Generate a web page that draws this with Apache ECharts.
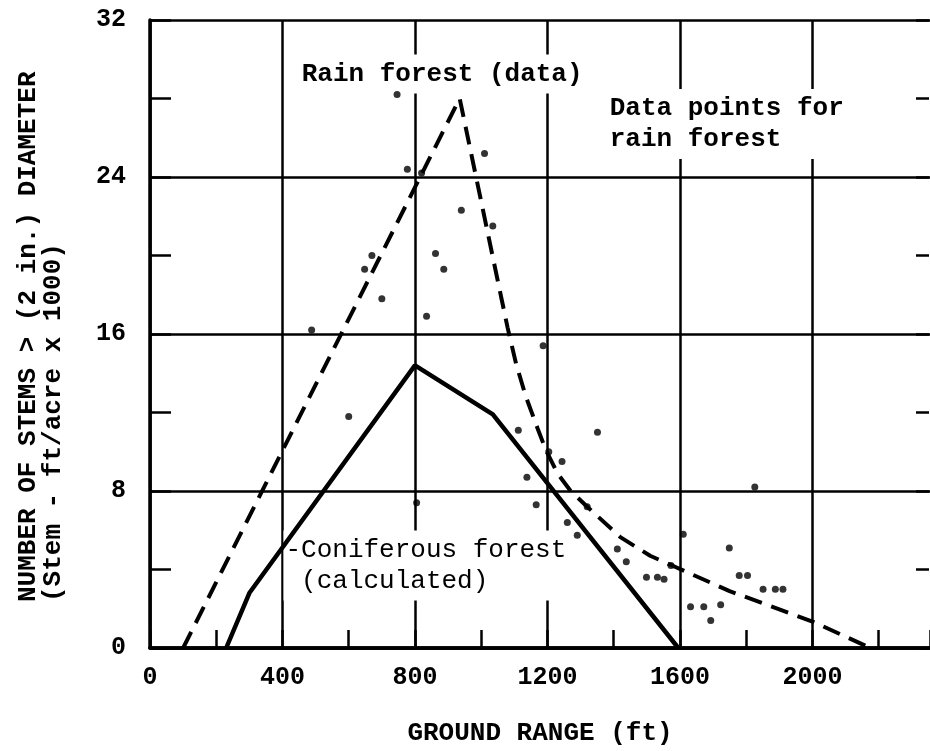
<!DOCTYPE html>
<html>
<head>
<meta charset="utf-8">
<script src="https://cdn.jsdelivr.net/npm/echarts@6/dist/echarts.min.js"></script>
<style>
  html, body { margin: 0; padding: 0; background: #fff; }
  #chart { width: 930px; height: 751px; }
</style>
</head>
<body>
<div id="chart"></div>
<script>
// calculated curve, coniferous forest [ground range ft, stems x1000]
const coniferous = [[230, 0], [300, 2.8], [800, 14.4], [1035, 11.9], [1595, 0]];
// fitted curve through rain forest data
const rainForest = [
  [100, 0], [935, 28], [1060, 17.9], [1080, 16.3], [1105, 14.5], [1135, 12.8],
  [1170, 11.2], [1195, 10.1], [1230, 8.9], [1270, 8.0], [1320, 7.2], [1420, 5.65],
  [1510, 4.7], [1590, 4.1], [1750, 2.9], [2000, 1.35], [2175, 0]
];
// measured points, rain forest
const rainPoints = [
  [746, 28.2], [1010, 25.2], [777, 24.4], [820, 24.2], [940, 22.3], [1035, 21.5],
  [670, 20.0], [648, 19.3], [862, 20.1], [887, 19.3], [700, 17.8], [835, 16.9],
  [488, 16.2], [1187, 15.4], [600, 11.8], [805, 7.4], [1112, 11.1], [1138, 8.7],
  [1166, 7.3], [1204, 10.0], [1244, 9.5], [1351, 11.0], [1260, 6.4], [1290, 5.75],
  [1320, 7.2], [1411, 5.05], [1438, 4.4], [1499, 3.6], [1532, 3.6], [1552, 3.5],
  [1573, 4.2], [1610, 5.8], [1749, 5.1], [1779, 3.7], [1804, 3.7], [1826, 8.2],
  [1851, 3.0], [1888, 3.0], [1911, 3.0], [1632, 2.1], [1672, 2.1], [1723, 2.2],
  [1693, 1.4]
];

// the sheet is cut at the right edge, a little past 2200 ft
const xRange = [0, 2355];
const yRange = [0, 32];

// notes placed in data coords
const notes = [
  {text: 'Rain forest (data)', at: [452, 29.25], weight: 'bold'},
  {text: 'Data points for\nrain forest', at: [1382, 26.7], weight: 'bold'},
  {text: '-Coniferous forest\n (calculated)', at: [403, 4.2], weight: 'normal'}
];
const yTitle = 'NUMBER OF STEMS > (2 in.) DIAMETER\n(Stem - ft/acre x 1000)';
const xTitle = 'GROUND RANGE (ft)';

const FONT = '"Liberation Mono", "DejaVu Sans Mono", monospace';
const black = '#000';
const gridLeft = 150;
const chartWidth = 930;

const chart = echarts.init(document.getElementById('chart'));

const option = {
  backgroundColor: '#fff',
  animation: false,
  textStyle: {fontFamily: FONT, color: black},
  grid: {left: gridLeft, right: 0, top: 20, bottom: 99},
  xAxis: [
    {
      type: 'value',
      min: xRange[0],
      max: xRange[1],
      interval: 400,
      axisLine: {show: true, lineStyle: {color: black, width: 3.5}},
      axisTick: {show: true, inside: true, length: 18, lineStyle: {color: black, width: 2.5}},
      minorTick: {show: true, splitNumber: 2, length: 18, lineStyle: {color: black, width: 2.5}},
      splitLine: {show: true, showMaxLine: false, lineStyle: {color: black, width: 2.5}},
      axisLabel: {
        showMaxLabel: false,
        margin: 17,
        fontSize: 25,
        fontWeight: 'bold',
        fontFamily: FONT,
        color: black,
        formatter: v => String(v)
      },
      name: xTitle,
      nameLocation: 'middle',
      nameGap: 72,
      nameTextStyle: {fontSize: 26, fontWeight: 'bold', fontFamily: FONT, color: black}
    },
    {
      type: 'value',
      position: 'top',
      min: xRange[0],
      max: xRange[1],
      interval: 400,
      axisLine: {show: true, lineStyle: {color: black, width: 3.5}},
      axisTick: {show: false},
      axisLabel: {show: false},
      splitLine: {show: false}
    }
  ],
  yAxis: [
    {
      type: 'value',
      min: yRange[0],
      max: yRange[1],
      interval: 8,
      axisLine: {show: true, lineStyle: {color: black, width: 3.5}},
      axisTick: {show: true, inside: true, length: 21, lineStyle: {color: black, width: 2.5}},
      minorTick: {show: true, splitNumber: 2, length: 21, lineStyle: {color: black, width: 2.5}},
      splitLine: {show: true, lineStyle: {color: black, width: 2.5}},
      axisLabel: {
        margin: 24,
        fontSize: 25,
        fontWeight: 'bold',
        fontFamily: FONT,
        color: black
      }
    },
    {
      // short ticks along the cut right edge: a left axis shifted to x = 930,
      // ticks pointing outward (leftward) into the plot
      type: 'value',
      position: 'left',
      offset: -(chartWidth - gridLeft - 1),
      min: yRange[0],
      max: yRange[1],
      interval: 8,
      axisLine: {show: false},
      axisTick: {show: true, inside: false, length: 13, lineStyle: {color: black, width: 2.5}},
      minorTick: {show: true, splitNumber: 2, length: 13, lineStyle: {color: black, width: 2.5}},
      axisLabel: {show: false},
      splitLine: {show: false}
    }
  ],
  series: [
    {
      name: 'Rain forest (data)',
      type: 'line',
      data: rainForest,
      showSymbol: false,
      lineStyle: {color: black, width: 4, type: [18, 10]},
      z: 3
    },
    {
      name: 'Coniferous forest (calculated)',
      type: 'line',
      data: coniferous,
      showSymbol: false,
      lineStyle: {color: black, width: 4.5},
      z: 3
    },
    {
      name: 'Data points for rain forest',
      type: 'scatter',
      data: rainPoints,
      symbolSize: 7,
      itemStyle: {color: black},
      z: 4
    }
  ]
};

chart.setOption(option);

// labels with a white box, like the typed notes on the original;
// kept under the curves but over the grid lines
const graphics = notes.map(n => {
  const p = chart.convertToPixel({xAxisIndex: 0, yAxisIndex: 0}, n.at);
  return {
    type: 'text',
    x: p[0],
    y: p[1],
    z: 1,
    style: {
      text: n.text,
      font: n.weight + ' 26px ' + FONT,
      fill: black,
      align: 'left',
      verticalAlign: 'middle',
      lineHeight: 31,
      backgroundColor: '#fff',
      padding: [4, 2, 4, 2]
    }
  };
});

graphics.push({
  type: 'text',
  x: 41,
  y: 602,
  rotation: Math.PI / 2,
  z: 1,
  style: {
    text: yTitle,
    font: 'bold 26px ' + FONT,
    fill: black,
    align: 'left',
    verticalAlign: 'middle',
    lineHeight: 25
  }
});

chart.setOption({graphic: graphics});
</script>
</body>
</html>
